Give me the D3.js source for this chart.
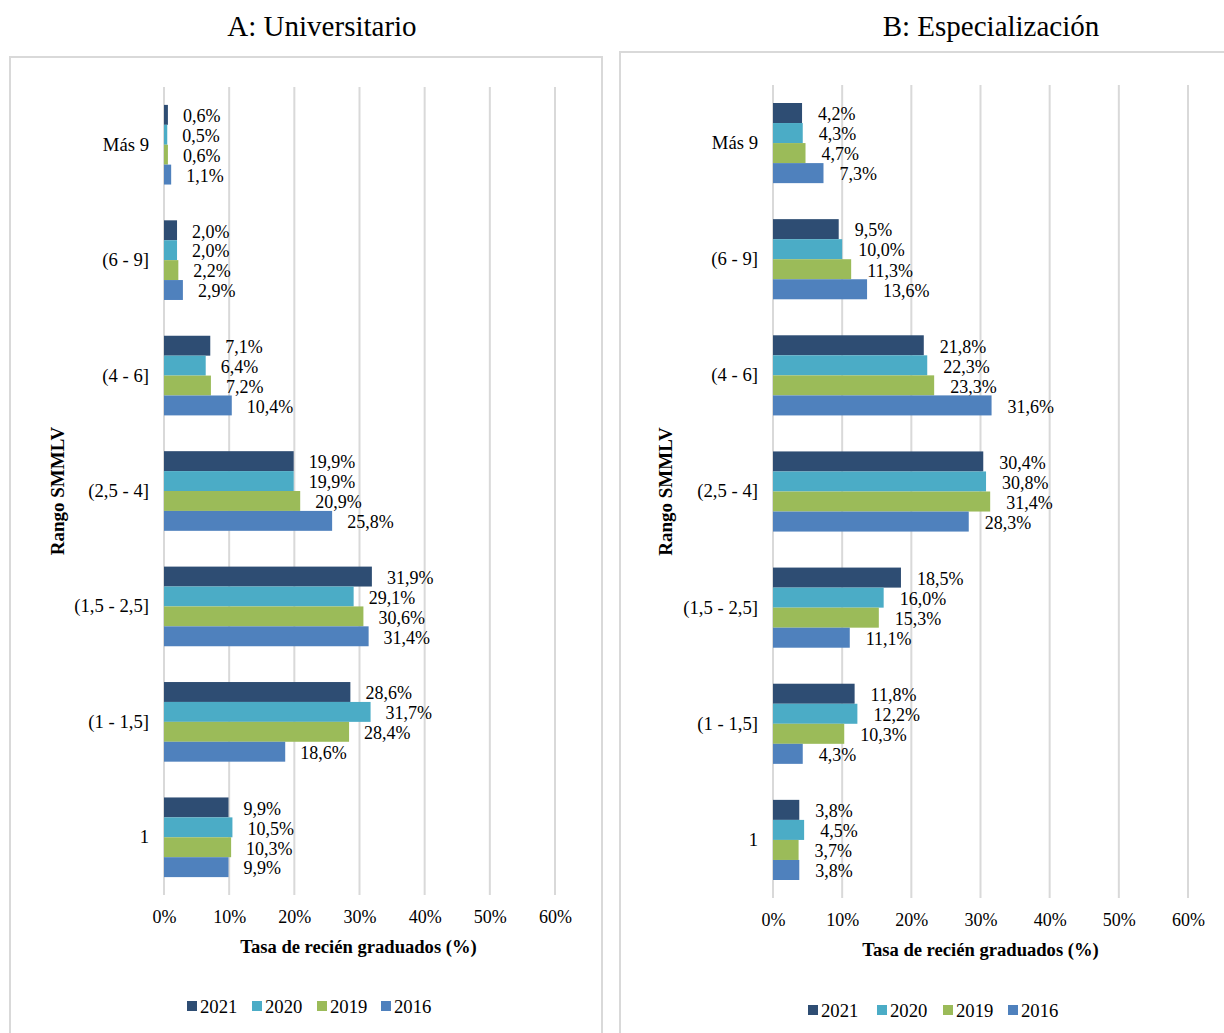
<!DOCTYPE html>
<html>
<head>
<meta charset="utf-8">
<script src="https://cdn.jsdelivr.net/npm/d3@7"></script>
<style>
  body { margin: 0; background: #fff; }
  svg { display: block; font-family: "Liberation Serif", "Times New Roman", serif; }
</style>
</head>
<body>
<svg id="chart" width="1224" height="1033"></svg>
<script>
// Wage ranges (in SMMLV) shown on the vertical axis, top to bottom
const categories = ["Más 9", "(6 - 9]", "(4 - 6]", "(2,5 - 4]", "(1,5 - 2,5]", "(1 - 1,5]", "1"];
const years = ["2021", "2020", "2019", "2016"];
const yearColors = ["#2E4D73", "#4BACC6", "#9BBB59", "#4F81BD"];
const xTicks = [0, 10, 20, 30, 40, 50, 60];

// A: Universitario — share of recent graduates per wage range, by year
const uni2021 = [0.6, 2.0, 7.1, 19.9, 31.9, 28.6, 9.9];
const uni2020 = [0.5, 2.0, 6.4, 19.9, 29.1, 31.7, 10.5];
const uni2019 = [0.6, 2.2, 7.2, 20.9, 30.6, 28.4, 10.3];
const uni2016 = [1.1, 2.9, 10.4, 25.8, 31.4, 18.6, 9.9];

// B: Especialización
const esp2021 = [4.2, 9.5, 21.8, 30.4, 18.5, 11.8, 3.8];
const esp2020 = [4.3, 10.0, 22.3, 30.8, 16.0, 12.2, 4.5];
const esp2019 = [4.7, 11.3, 23.3, 31.4, 15.3, 10.3, 3.7];
const esp2016 = [7.3, 13.6, 31.6, 28.3, 11.1, 4.3, 3.8];

const svg = d3.select("#chart");
const FONT = "'Liberation Serif', 'Times New Roman', serif";
const fmt = v => d3.format(".1f")(v).replace(".", ",") + "%";

function drawPanel(cfg) {
  const series = cfg.series;
  const g = svg.append("g");

  // panel frame
  g.append("rect")
    .attr("x", cfg.frame[0]).attr("y", cfg.frame[1])
    .attr("width", cfg.frame[2]).attr("height", cfg.frame[3])
    .attr("fill", "none").attr("stroke", "#d9d9d9").attr("stroke-width", 2);

  // title
  g.append("text")
    .attr("x", cfg.titleX).attr("y", 36)
    .attr("text-anchor", "middle")
    .attr("font-size", 29)
    .attr("fill", "#000")
    .text(cfg.title);

  const x = d3.scaleLinear().domain([0, 60]).range([cfg.left, cfg.right]);
  const y = d3.scaleBand().domain(categories).range([cfg.top, cfg.bottom]).paddingInner(0.31).paddingOuter(0.155);
  const yy = d3.scaleBand().domain(years).range([0, y.bandwidth()]);

  // vertical gridlines
  g.append("g").selectAll("line").data(xTicks).join("line")
    .attr("x1", d => x(d)).attr("x2", d => x(d))
    .attr("y1", cfg.top).attr("y2", cfg.bottom)
    .attr("stroke", "#d9d9d9").attr("stroke-width", 2);

  // x axis tick labels
  const xAxis = d3.axisBottom(x).tickValues(xTicks).tickSize(0).tickPadding(0).tickFormat(d => d + "%");
  const ax = g.append("g").attr("transform", `translate(0,${cfg.bottom + 28})`).call(xAxis);
  ax.select(".domain").remove();
  ax.attr("font-family", FONT);
  ax.selectAll("text").attr("font-size", 18).attr("fill", "#000").attr("dy", 0);

  // y axis category labels
  const yAxis = d3.axisLeft(y).tickSize(0).tickPadding(0);
  const ay = g.append("g").attr("transform", `translate(${cfg.left - 15},0)`).call(yAxis);
  ay.select(".domain").remove();
  ay.attr("font-family", FONT);
  ay.selectAll("text").attr("font-size", 18.7).attr("fill", "#000");

  // bars and value labels
  years.forEach((yr, k) => {
    const vals = series[k];
    const rows = categories.map((c, i) => ({ c, v: vals[i] }));
    g.append("g").selectAll("rect").data(rows).join("rect")
      .attr("x", x(0))
      .attr("y", d => y(d.c) + yy(yr))
      .attr("width", d => x(d.v) - x(0))
      .attr("height", yy.bandwidth())
      .attr("fill", yearColors[k]);
    g.append("g").selectAll("text").data(rows).join("text")
      .attr("x", d => x(d.v) + cfg.labelGap)
      .attr("y", d => y(d.c) + yy(yr) + yy.bandwidth() / 2 + 1)
      .attr("dy", "0.35em")
      .attr("font-size", 18)
      .attr("fill", "#000")
      .text(d => fmt(d.v));
  });

  // axis titles
  g.append("text")
    .attr("x", (cfg.left + cfg.right) / 2 + cfg.xTitleShift).attr("y", cfg.bottom + 58)
    .attr("text-anchor", "middle").attr("font-size", 18.6).attr("font-weight", "bold")
    .text("Tasa de recién graduados (%)");
  g.append("text")
    .attr("transform", `translate(${cfg.yTitleX},${(cfg.top + cfg.bottom) / 2}) rotate(-90)`)
    .attr("text-anchor", "middle").attr("dy", "0.35em").attr("font-size", 19).attr("font-weight", "bold")
    .text("Rango SMMLV");

  // legend
  const lg = g.append("g").attr("transform", `translate(${cfg.legendX},${cfg.legendY})`);
  years.forEach((yr, k) => {
    const it = lg.append("g").attr("transform", `translate(${cfg.legendOffsets[k]},0)`);
    it.append("rect").attr("x", 0).attr("y", -5).attr("width", 10).attr("height", 10).attr("fill", yearColors[k]);
    it.append("text").attr("x", 13).attr("y", 0).attr("dy", "0.35em").attr("font-size", 18.7).text(yr);
  });
}

drawPanel({
  title: "A: Universitario", titleX: 322,
  frame: [10, 57, 592, 1000],
  left: 164, right: 555, top: 87, bottom: 895,
  labelGap: 15, xTitleShift: -1, yTitleX: 57,
  legendX: 187, legendY: 1006,
  legendOffsets: [0, 65, 130, 194],
  series: [uni2021, uni2020, uni2019, uni2016]
});

drawPanel({
  title: "B: Especialización", titleX: 991,
  frame: [620, 52, 620, 1000],
  left: 773, right: 1188, top: 85, bottom: 898,
  labelGap: 16, xTitleShift: 0, yTitleX: 665,
  legendX: 808, legendY: 1010,
  legendOffsets: [0, 69, 135, 200],
  series: [esp2021, esp2020, esp2019, esp2016]
});
</script>
</body>
</html>
